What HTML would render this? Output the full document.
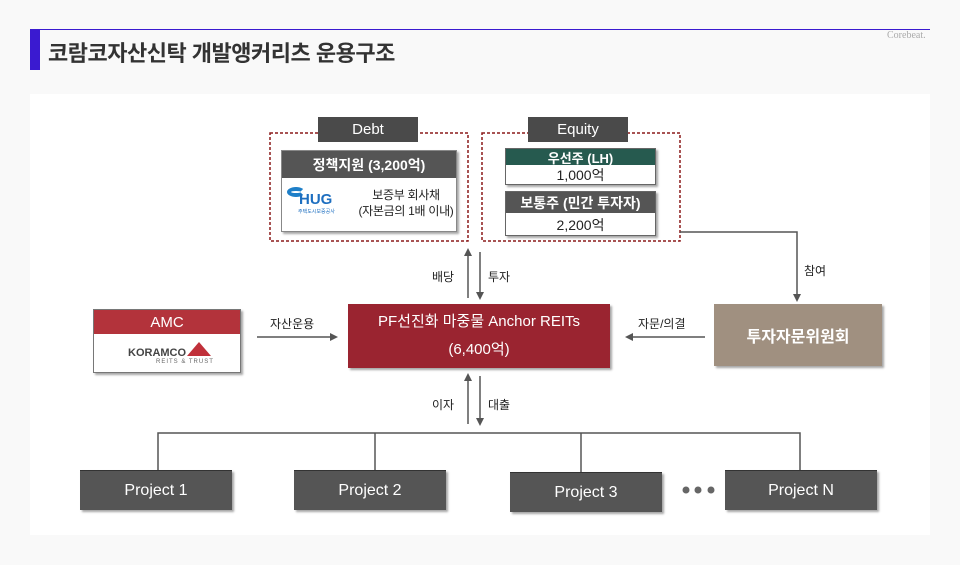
<!DOCTYPE html>
<html><head><meta charset="utf-8"><style>
*{margin:0;padding:0;box-sizing:border-box}
body{width:960px;height:565px;background:#f9f9f9;position:relative;overflow:hidden;font-family:"Liberation Sans","Noto Sans CJK KR",sans-serif;color:#222}
.a{position:absolute}
.c{display:flex;align-items:center;justify-content:center;text-align:center}
.sh{box-shadow:2px 2px 2px rgba(0,0,0,.35)}
.proj{background:#555;color:#fff;font-size:16px;width:152px;height:40px;border-top:1px solid #333}
.lbl{font-size:12px;color:#222}
</style></head><body>
<div class="a" style="left:30px;top:29px;width:900px;height:1px;background:#3a1ad0"></div>
<div class="a" style="left:30px;top:29px;width:10px;height:41px;background:#3a1ad0"></div>
<div class="a" style="left:48px;top:36px;font-size:22px;font-weight:bold;color:#333;letter-spacing:-0.5px">코람코자산신탁 개발앵커리츠 운용구조</div>
<div class="a" style="left:887px;top:30px;font-size:10px;color:#aaa;font-family:'Liberation Serif',serif">Corebeat.</div>
<div class="a" style="left:30px;top:94px;width:900px;height:441px;background:#fff"></div>

<svg class="a" style="left:0;top:0" width="960" height="565">
<defs><marker id="m" markerWidth="8" markerHeight="8" refX="6" refY="4" orient="auto" markerUnits="userSpaceOnUse"><path d="M0,0L8,4L0,8z" fill="#555"/></marker></defs>
<g stroke="#555" stroke-width="1.5" fill="none">
<rect x="270" y="133" width="198" height="108" stroke="#8b1a1a" stroke-dasharray="3,2"/>
<rect x="482" y="133" width="198" height="108" stroke="#8b1a1a" stroke-dasharray="3,2"/>
<line x1="468" y1="298" x2="468" y2="250" marker-end="url(#m)"/>
<line x1="480" y1="252" x2="480" y2="298" marker-end="url(#m)"/>
<line x1="468" y1="424" x2="468" y2="375" marker-end="url(#m)"/>
<line x1="480" y1="376" x2="480" y2="424" marker-end="url(#m)"/>
<polyline points="680,232 797,232 797,300" marker-end="url(#m)"/>
<line x1="705" y1="337" x2="627" y2="337" marker-end="url(#m)"/>
<line x1="257" y1="337" x2="336" y2="337" marker-end="url(#m)"/>
<polyline points="158,470 158,433 800,433 800,470"/>
<line x1="375" y1="433" x2="375" y2="470"/>
<line x1="581" y1="433" x2="581" y2="472"/>
</g>
<circle cx="686" cy="490" r="3.5" fill="#666"/><circle cx="698" cy="490" r="3.5" fill="#666"/><circle cx="711" cy="490" r="3.5" fill="#666"/>
</svg>

<div class="a c" style="left:318px;top:117px;width:100px;height:25px;background:#4a4a4a;color:#fff;font-size:15px">Debt</div>
<div class="a c" style="left:528px;top:117px;width:100px;height:25px;background:#4a4a4a;color:#fff;font-size:15px">Equity</div>

<div class="a sh" style="left:281px;top:150px;width:176px;height:82px;background:#fff;border:1px solid #888">
<div class="c" style="height:27px;background:#555;color:#fff;font-size:14px;font-weight:bold">정책지원 (3,200억)</div>
<div class="a" style="left:5px;top:36px;width:18px;height:10px;border:4px solid #1e7fc8;border-radius:50%;border-right-color:transparent"></div>
<div class="a" style="left:17px;top:40px;font-size:15px;font-weight:bold;color:#1e6fc0">HUG</div>
<div class="a" style="left:16px;top:57px;font-size:5px;color:#1e6fc0">주택도시보증공사</div>
<div class="a" style="left:72px;top:36px;font-size:12px;line-height:16px;text-align:center;width:104px;letter-spacing:-0.3px">보증부 회사채<br>(자본금의 1배 이내)</div>
</div>

<div class="a sh" style="left:505px;top:148px;width:151px;height:37px;background:#fff;border:1px solid #666">
<div class="c" style="height:16px;background:#265a4f;color:#fff;font-size:13px;font-weight:bold">우선주 (LH)</div>
<div class="c" style="height:20px;font-size:14px">1,000억</div></div>
<div class="a sh" style="left:505px;top:191px;width:151px;height:45px;background:#fff;border:1px solid #666">
<div class="c" style="height:21px;background:#555;color:#fff;font-size:14px;font-weight:bold">보통주 (민간 투자자)</div>
<div class="c" style="height:23px;font-size:14px">2,200억</div></div>

<div class="a lbl" style="left:432px;top:268px">배당</div>
<div class="a lbl" style="left:488px;top:268px">투자</div>
<div class="a lbl" style="left:432px;top:396px">이자</div>
<div class="a lbl" style="left:488px;top:396px">대출</div>
<div class="a lbl" style="left:804px;top:262px">참여</div>
<div class="a lbl" style="left:638px;top:315px">자문/의결</div>
<div class="a lbl" style="left:270px;top:315px">자산운용</div>

<div class="a c sh" style="left:348px;top:304px;width:262px;height:64px;background:#9a2430;color:#fff;font-size:15px;line-height:28px">PF선진화 마중물 Anchor REITs<br>(6,400억)</div>
<div class="a c sh" style="left:714px;top:304px;width:168px;height:62px;background:#a09080;color:#fff;font-size:16px;font-weight:bold">투자자문위원회</div>

<div class="a sh" style="left:93px;top:309px;width:148px;height:64px;background:#fff;border:1px solid #777">
<div class="c" style="height:24px;background:#b3333b;color:#fff;font-size:15px">AMC</div>
<div class="a" style="left:34px;top:37px;font-size:11px;font-weight:bold;color:#444">KORAMCO</div>
<div class="a" style="left:62px;top:49px;font-size:6px;color:#666;letter-spacing:1px">REITS &amp; TRUST</div>
<div class="a" style="left:93px;top:32px;width:0;height:0;border-left:12px solid transparent;border-right:12px solid transparent;border-bottom:14px solid #c0303a"></div>
</div>

<div class="a c proj sh" style="left:80px;top:470px">Project 1</div>
<div class="a c proj sh" style="left:294px;top:470px">Project 2</div>
<div class="a c proj sh" style="left:510px;top:472px">Project 3</div>
<div class="a c proj sh" style="left:725px;top:470px">Project N</div>
</body></html>
